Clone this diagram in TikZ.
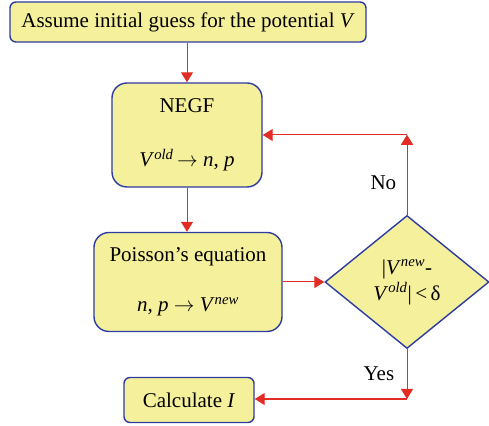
\documentclass[tikz,border=0pt]{standalone}
\usepackage{fontspec}
\setmainfont{Liberation Serif}
\usetikzlibrary{shapes.geometric, arrows.meta, calc}
\definecolor{boxfill}{RGB}{245,240,155}
\definecolor{boxline}{RGB}{45,60,160}
\definecolor{flowred}{RGB}{225,45,35}

\begin{document}
\begin{tikzpicture}[x=1pt, y=1pt, font=\fontsize{21}{24}\selectfont]
\tikzset{
    node style box/.style={draw=boxline, fill=boxfill, line width=1.4pt, rectangle, align=center, inner sep=0pt},
    node style test/.style={draw=boxline, fill=boxfill, line width=1.4pt, diamond, align=center, inner sep=0pt,
        minimum width=164pt, minimum height=133pt},
    arrow style flow/.style={draw=flowred, line width=1pt, -{Triangle[length=10pt, width=12pt]}, flowred}
}
  \useasboundingbox (0,0) rectangle (489,425);
  \node[node style box, rounded corners=6pt, minimum width=356pt, minimum height=40pt] (init) at (188,403)
     {Assume initial guess for the potential \textit{V}};
  \node[node style box, rounded corners=15pt, minimum width=150pt, minimum height=104pt] (negf) at (187,290)
     {NEGF\\[30pt] \textit{V}\textsuperscript{\textit{old}}\,$\rightarrow$ \textit{n}, \textit{p}};
  \node[node style box, rounded corners=15pt, minimum width=188pt, minimum height=99pt] (pois) at (188,143)
     {Poisson’s equation\\[26pt] \textit{n}, \textit{p} $\rightarrow$ \textit{V}\textsuperscript{\textit{new}}};
  \node[node style test] (test) at (407,143)
     {|\textit{V}\textsuperscript{\textit{new}}-\\[2pt] \textit{V}\textsuperscript{\textit{old}}|{\,}<{\,}δ};
  \node[node style box, rounded corners=6pt, minimum width=130pt, minimum height=45pt] (calc) at (189,25)
     {Calculate \textit{I}};
  \coordinate (nocorner) at (407,290);
  \coordinate (yescorner) at (407,26);

  \path[arrow style flow]
    (init.south -| negf.north) edge (negf.north)
    (negf.south) edge (negf.south |- pois.north)
    (pois.east) edge (test.west)
    (test.north) edge node [pos=0.4, left=7pt, black] {No} (nocorner)
    (nocorner) edge (negf.east |- nocorner);
  \draw[arrow style flow] (test.south) -- node [midway, left=9pt, black] {Yes} (yescorner);
  \draw[arrow style flow] (yescorner) -- (calc.east |- yescorner);
\end{tikzpicture}
\end{document}
